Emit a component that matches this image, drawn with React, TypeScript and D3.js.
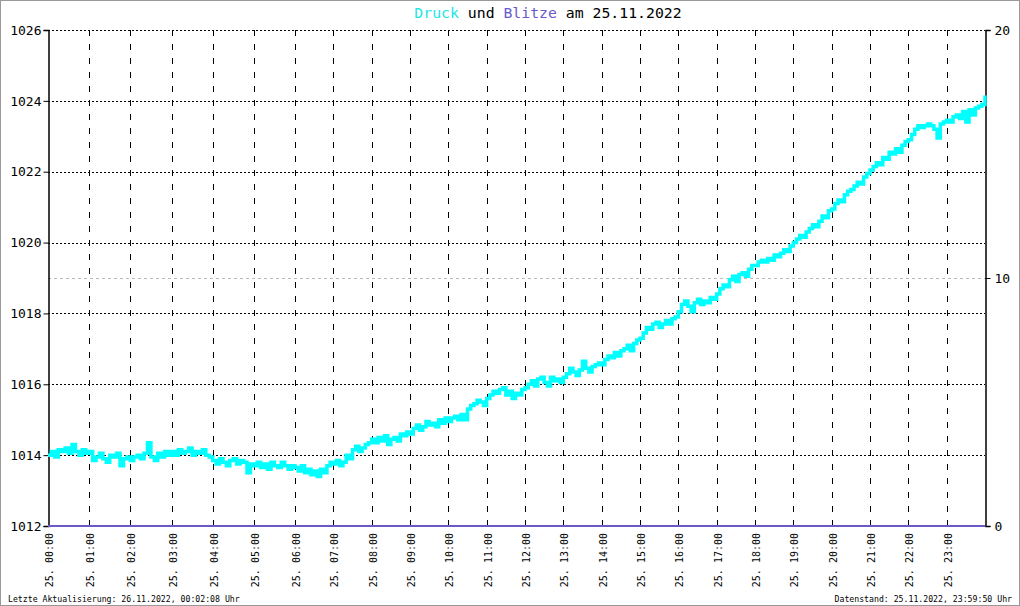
// react
import { useEffect, useRef } from "react";

// d3
import * as d3 from "d3";

const TITLE_DATE = "25.11.2022";
const DAY = "25.";
const FOOTER_LEFT = "Letzte Aktualisierung: 26.11.2022, 00:02:08 Uhr";
const FOOTER_RIGHT = "Datenstand: 25.11.2022, 23:59:50 Uhr";

// Luftdruck in hPa, alle 5 Minuten ab 00:00 (eine Zeile je Stunde)
const druck = [
  1014.0, 1014.1, 1013.95, 1014.15, 1014.1, 1014.2, 1014.05, 1014.3, 1014.1, 1014.0, 1014.15, 1014.05,
  1014.1, 1013.85, 1013.95, 1014.05, 1013.9, 1013.8, 1014.0, 1013.95, 1014.05, 1013.7, 1013.9, 1013.95,
  1013.85, 1013.95, 1014.0, 1013.9, 1014.05, 1014.35, 1013.95, 1013.85, 1014.05, 1013.95, 1014.1, 1014.0,
  1014.1, 1014.0, 1014.15, 1014.05, 1014.1, 1014.2, 1014.0, 1014.1, 1014.05, 1014.15, 1014.0, 1013.95,
  1013.85, 1013.75, 1013.9, 1013.8, 1013.7, 1013.85, 1013.9, 1013.75, 1013.85, 1013.8, 1013.5, 1013.75,
  1013.7, 1013.8, 1013.65, 1013.75, 1013.6, 1013.8, 1013.7, 1013.65, 1013.8, 1013.7, 1013.6, 1013.7,
  1013.65, 1013.55, 1013.7, 1013.5, 1013.6, 1013.45, 1013.55, 1013.4, 1013.6, 1013.5, 1013.7, 1013.8,
  1013.75, 1013.85, 1013.7, 1013.8, 1014.0, 1013.9, 1014.15, 1014.25, 1014.1, 1014.2, 1014.3, 1014.35,
  1014.45, 1014.35, 1014.5, 1014.4, 1014.55, 1014.3, 1014.45, 1014.5, 1014.4, 1014.6, 1014.55, 1014.65,
  1014.6, 1014.75, 1014.85, 1014.7, 1014.8, 1014.95, 1014.85, 1014.9, 1014.8, 1015.0, 1014.9, 1015.05,
  1014.95, 1015.05, 1015.1, 1015.0, 1015.15, 1015.0, 1015.3, 1015.4, 1015.45, 1015.55, 1015.5, 1015.4,
  1015.6, 1015.7, 1015.8, 1015.75, 1015.85, 1015.9, 1015.7, 1015.8, 1015.6, 1015.75, 1015.7, 1015.85,
  1015.9, 1016.0, 1016.1, 1015.95, 1016.15, 1016.2, 1016.05, 1015.95, 1016.2, 1016.1, 1016.15, 1016.05,
  1016.2, 1016.3, 1016.45, 1016.35, 1016.25, 1016.4, 1016.65, 1016.45, 1016.35, 1016.5, 1016.55, 1016.6,
  1016.55, 1016.7, 1016.8, 1016.75, 1016.9, 1016.8, 1016.95, 1017.0, 1017.1, 1016.95, 1017.15, 1017.25,
  1017.3, 1017.45, 1017.6, 1017.55, 1017.7, 1017.75, 1017.6, 1017.7, 1017.8, 1017.7, 1017.85, 1017.9,
  1018.05, 1018.25, 1018.35, 1018.2, 1018.05, 1018.3, 1018.4, 1018.25, 1018.35, 1018.3, 1018.45, 1018.4,
  1018.55, 1018.7, 1018.8, 1018.75, 1018.95, 1019.05, 1018.9, 1019.1, 1019.15, 1019.05, 1019.25, 1019.35,
  1019.35, 1019.45, 1019.5, 1019.45, 1019.55, 1019.5, 1019.65, 1019.6, 1019.7, 1019.8, 1019.75, 1019.9,
  1020.0, 1020.1, 1020.2, 1020.15, 1020.3, 1020.4, 1020.5, 1020.45, 1020.6, 1020.75, 1020.7, 1020.9,
  1020.95, 1021.1, 1021.2, 1021.15, 1021.35, 1021.45, 1021.5, 1021.6, 1021.7, 1021.65, 1021.85, 1021.95,
  1022.05, 1022.15, 1022.25, 1022.2, 1022.4, 1022.35, 1022.55, 1022.5, 1022.65, 1022.55, 1022.75, 1022.85,
  1022.9, 1023.05, 1023.2, 1023.3, 1023.25, 1023.3, 1023.35, 1023.3, 1023.2, 1022.95, 1023.35, 1023.4,
  1023.45, 1023.4, 1023.55, 1023.6, 1023.5, 1023.7, 1023.4, 1023.75, 1023.6, 1023.8, 1023.85, 1023.9,
  1024.15,
];

// Blitze pro Stunde
const blitze = [
  0, 0, 0, 0, 0, 0, 0, 0, 0, 0, 0, 0,
  0, 0, 0, 0, 0, 0, 0, 0, 0, 0, 0, 0, 0,
];

const hourTicks = d3.range(0, 24);
const druckTicks = [1012, 1014, 1016, 1018, 1020, 1022, 1024, 1026];
const blitzTicks = [0, 10, 20];

const CYAN = "#00FFFF";
const PURPLE = "#6A5ACD";
const MONO = "'DejaVu Sans Mono', 'Liberation Mono', monospace";

export default function App() {
  const ref = useRef<SVGSVGElement>(null);

  useEffect(() => {
    document.body.style.margin = "0";
    if (!ref.current) return;
    const svg = d3.select(ref.current);
    svg.selectAll("*").remove();

    const W = 1020;
    const H = 606;
    const left = 48;
    const right = 985;
    const top = 30;
    const bottom = 526;

    // Zeitachse: Messwerte nicht ganz gleichmaessig verteilt
    const x = d3.scaleLinear().domain([0, 6, 24]).range([left, 295, right]);
    const y = d3.scaleLinear().domain([1012, 1026]).range([bottom, top]);
    const y2 = d3.scaleLinear().domain([0, 20]).range([bottom, top]);

    svg.attr("width", W).attr("height", H).style("display", "block");

    svg
      .append("rect")
      .attr("x", 0.5)
      .attr("y", 0.5)
      .attr("width", W - 1)
      .attr("height", H - 1)
      .attr("fill", "#fff")
      .attr("stroke", "#999");

    // Grid
    svg
      .append("g")
      .selectAll("line")
      .data(hourTicks.slice(1))
      .join("line")
      .attr("x1", (d) => Math.round(x(d)) + 0.5)
      .attr("x2", (d) => Math.round(x(d)) + 0.5)
      .attr("y1", top)
      .attr("y2", bottom)
      .attr("stroke", "#000")
      .attr("stroke-dasharray", "6,8");

    svg
      .append("g")
      .selectAll("line")
      .data(druckTicks.slice(1))
      .join("line")
      .attr("x1", left)
      .attr("x2", right)
      .attr("y1", (d) => Math.round(y(d)) + 0.5)
      .attr("y2", (d) => Math.round(y(d)) + 0.5)
      .attr("stroke", "#000")
      .attr("stroke-dasharray", "2,2");

    svg
      .append("line")
      .attr("x1", left)
      .attr("x2", right)
      .attr("y1", Math.round(y2(10)) + 0.5)
      .attr("y2", Math.round(y2(10)) + 0.5)
      .attr("stroke", "#bbb")
      .attr("stroke-dasharray", "3,3");

    // Axes
    svg
      .append("g")
      .attr("transform", `translate(${left + 0.5},0)`)
      .call(d3.axisLeft(y).tickValues(druckTicks).tickSize(5).tickFormat(d3.format("d")))
      .call((a) => {
        a.select(".domain").attr("stroke", "#000").attr("stroke-width", 1.5);
        a.selectAll("line").attr("stroke", "#000");
        a.selectAll("text")
          .attr("font-family", MONO)
          .attr("font-size", 13)
          .attr("fill", "#000")
          .attr("x", -7);
      });

    svg
      .append("g")
      .attr("transform", `translate(${right + 0.5},0)`)
      .call(d3.axisRight(y2).tickValues(blitzTicks).tickSize(5))
      .call((a) => {
        a.select(".domain").attr("stroke", "#000").attr("stroke-width", 1.5);
        a.selectAll("line").attr("stroke", "#000");
        a.selectAll("text")
          .attr("font-family", MONO)
          .attr("font-size", 13)
          .attr("fill", "#000")
          .attr("x", 9);
      });

    // Zeitbeschriftung
    svg
      .append("g")
      .selectAll("text")
      .data(hourTicks)
      .join("text")
      .attr("transform", (d) => `translate(${Math.round(x(d)) + 1},${bottom + 7}) rotate(-90)`)
      .attr("text-anchor", "end")
      .attr("dy", "0.35em")
      .attr("font-family", MONO)
      .attr("font-size", 10)
      .attr("fill", "#000")
      .text((d) => `${DAY} ${String(d).padStart(2, "0")}:00`);

    // Druck
    const line = d3
      .line<number>()
      .x((_, i) => x(i / 12))
      .y((d) => y(d))
      .curve(d3.curveStepAfter);

    svg
      .append("path")
      .datum(druck)
      .attr("d", line)
      .attr("fill", "none")
      .attr("stroke", CYAN)
      .attr("stroke-width", 3.5)
      .attr("stroke-linejoin", "miter");

    // Blitze
    const blitzLine = d3
      .line<number>()
      .x((_, i) => x(i))
      .y((d) => y2(d));

    svg
      .append("path")
      .datum(blitze)
      .attr("d", blitzLine)
      .attr("fill", "none")
      .attr("stroke", PURPLE)
      .attr("stroke-width", 2);

    // Titel
    const title = svg
      .append("text")
      .attr("x", 548)
      .attr("y", 18)
      .attr("text-anchor", "middle")
      .attr("font-family", MONO)
      .attr("font-size", 14.8)
      .attr("fill", "#000");
    title.append("tspan").attr("fill", "#22E6E6").text("Druck");
    title.append("tspan").text(" und ");
    title.append("tspan").attr("fill", PURPLE).text("Blitze");
    title.append("tspan").text(` am ${TITLE_DATE}`);

    // Fusszeile
    svg
      .append("text")
      .attr("x", 8)
      .attr("y", 602)
      .attr("font-family", MONO)
      .attr("font-size", 8.2)
      .attr("fill", "#000")
      .text(FOOTER_LEFT);
    svg
      .append("text")
      .attr("x", 1012)
      .attr("y", 602)
      .attr("text-anchor", "end")
      .attr("font-family", MONO)
      .attr("font-size", 8.2)
      .attr("fill", "#000")
      .text(FOOTER_RIGHT);
  }, []);

  return <svg ref={ref} />;
}
